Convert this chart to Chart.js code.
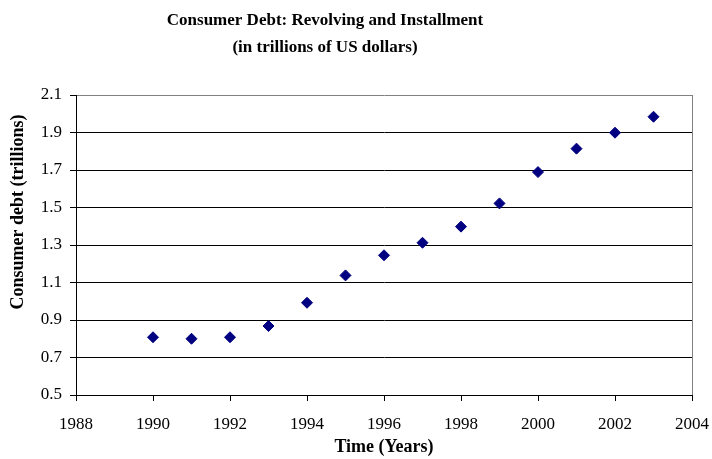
<!DOCTYPE html>
<html lang="en">
<head>
  <meta charset="UTF-8">
  <title>Consumer Debt: Revolving and Installment</title>
  <script src="https://cdn.jsdelivr.net/npm/chart.js"></script>
  <style>
    html, body { margin: 0; padding: 0; background: #fff; }
    #wrap { width: 712px; height: 459px; }
  </style>
</head>
<body>
<div id="wrap"><canvas id="debtChart" width="712" height="459"></canvas></div>

<script>
  // Consumer debt, trillions of US dollars
  const years = [1990, 1991, 1992, 1993, 1994, 1995, 1996, 1997, 1998, 1999, 2000, 2001, 2002, 2003];
  const debt = [0.808, 0.800, 0.808, 0.868, 0.992, 1.138, 1.245, 1.312, 1.398, 1.522, 1.689, 1.814, 1.899, 1.984];

  const titleLines = ['Consumer Debt: Revolving and Installment', '(in trillions of US dollars)'];
  const yTitle = 'Consumer debt (trillions)';
  const xTitle = 'Time (Years)';

  const SERIF = "'Liberation Serif', 'Times New Roman', serif";
  const NAVY = '#000080';
  const FRAME = '#808080';

  // header and rotated y title, drawn straight onto the canvas
  const headerPlugin = {
    id: 'header',
    afterDraw(chart) {
      const ctx = chart.ctx;
      ctx.save();
      ctx.fillStyle = '#000';
      ctx.textAlign = 'center';
      ctx.textBaseline = 'middle';
      ctx.font = 'bold 17px ' + SERIF;
      ctx.fillText(titleLines[0], 325, 21);
      ctx.fillText(titleLines[1], 325, 48);

      ctx.font = 'bold 18px ' + SERIF;
      ctx.translate(18, 212);
      ctx.rotate(-Math.PI / 2);
      ctx.fillText(yTitle, 0, 0);
      ctx.restore();
    }
  };

  const points = years.map((y, i) => ({ x: y, y: debt[i] }));

  new Chart(document.getElementById('debtChart'), {
    type: 'scatter',
    data: {
      datasets: [{
        label: 'Consumer debt',
        data: points,
        pointStyle: 'rectRot',
        pointRadius: 5.5,
        pointHoverRadius: 5.5,
        borderWidth: 1,
        borderColor: NAVY,
        backgroundColor: NAVY
      }]
    },
    options: {
      responsive: false,
      animation: false,
      layout: { padding: { top: 95, right: 20, left: 0, bottom: 0 } },
      plugins: {
        legend: { display: false },
        title: { display: false },
        tooltip: { enabled: false }
      },
      scales: {
        x: {
          type: 'linear',
          min: 1988,
          max: 2004,
          afterFit: scale => {
            scale.height = 64;
            scale.paddingLeft = 0;
            scale.paddingRight = 0;
          },
          border: { display: true, color: '#000', width: 1 },
          grid: {
            drawOnChartArea: true,
            color: c => (c.tick && c.tick.value === 2004) ? FRAME : 'rgba(0,0,0,0)',
            tickColor: '#000',
            tickLength: 6
          },
          ticks: {
            stepSize: 2,
            padding: 13,
            color: '#000',
            font: { family: SERIF, size: 17 },
            callback: v => String(v)
          },
          title: {
            display: true,
            text: xTitle,
            color: '#000',
            font: { family: SERIF, size: 18, weight: 'bold' },
            padding: { top: 0, bottom: 1 }
          }
        },
        y: {
          min: 0.5,
          max: 2.1,
          afterFit: scale => {
            scale.width = 76;
            scale.paddingTop = 0;
            scale.paddingBottom = 0;
          },
          border: { display: true, color: '#000', width: 1 },
          grid: {
            color: c => (c.tick && c.tick.value > 2.05) ? FRAME : '#000',
            tickColor: '#000',
            tickLength: 6
          },
          ticks: {
            stepSize: 0.2,
            padding: 8,
            color: '#000',
            font: { family: SERIF, size: 17 },
            callback: v => v.toFixed(1)
          }
        }
      }
    },
    plugins: [headerPlugin]
  });
</script>
</body>
</html>
